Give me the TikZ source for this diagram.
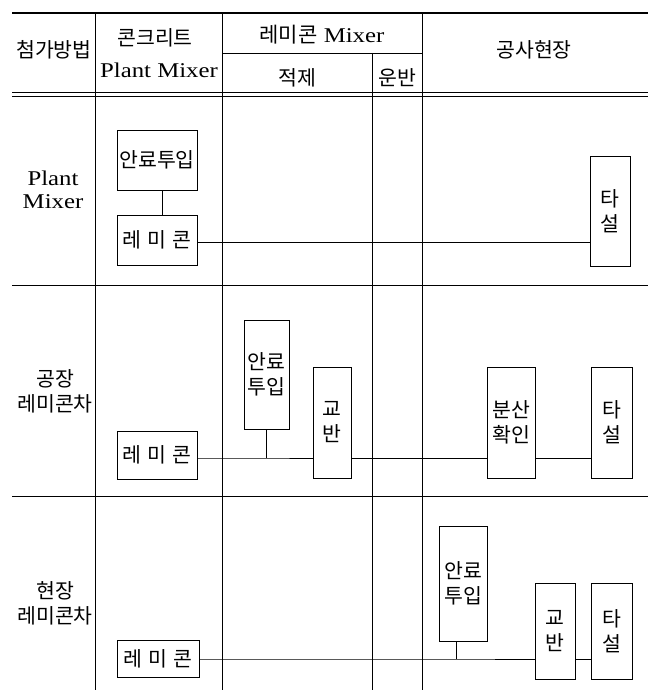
\documentclass[tikz,border=0pt]{standalone}
\usepackage{fontspec}
\newfontfamily\kr{Noto Sans CJK KR}
\newfontfamily\lat[FakeStretch=1.18]{Liberation Serif}
\begin{document}
\begin{tikzpicture}[x=1pt,y=-1pt,
  every node/.style={inner sep=0pt, outer sep=0pt},
  ko/.style={font=\kr\fontsize{20.5}{25}\selectfont, align=center},
  la/.style={font=\lat\fontsize{21}{23}\selectfont, align=center},
  box/.style={draw, line width=0.8pt, ko},
  rule/.style={line width=0.8pt},
  heavyrule/.style={line width=2.2pt},
  link/.style={line width=0.8pt}]
\useasboundingbox (0,0) rectangle (654,690);
% table rules
\draw[heavyrule] (12,13) -- (648,13);
\draw[rule] (12,92) -- (648,92);
\draw[rule] (12,96) -- (648,96);
\draw[rule] (12,285) -- (648,285);
\draw[rule] (12,496) -- (648,496);
\draw[rule] (95,13) -- (95,690);
\draw[rule] (222,13) -- (222,690);
\draw[rule] (372,53) -- (372,690);
\draw[rule] (422,13) -- (422,690);
\draw[rule] (222,53) -- (422,53);
% header
\node[ko] (h1) at (54,50) {첨가방법};
\node[ko] (h2a) at (155,38) {콘크리트};
\node[la] (h2b) at (159,70) {Plant Mixer};
\node[la] (h3) at (322,35) {{\kr 레미콘} Mixer};
\node[ko] (h3a) at (297,78) {적제};
\node[ko] (h3b) at (397,78) {운반};
\node[ko] (h4) at (534,50) {공사현장};
% row labels
\node[la] (l1) at (53,190) {Plant\\Mixer};
\node[ko] (l2) at (55,391) {공장\\레미콘차};
\node[ko] (l3) at (55,603) {현장\\레미콘차};
% row 1
\node[box, minimum width=80, minimum height=60] (a1) at (157,160) {안료투입};
\node[box, minimum width=80, minimum height=50] (r1) at (157,240) {레\hspace{6pt}미\hspace{6pt}콘};
\node[box, minimum width=40, minimum height=110] (t1) at (610,211) {타\\설};
\draw[link] ([xshift=5pt]a1.south) -- ([xshift=5pt]r1.north);
\draw[link] ([yshift=-2pt]r1.east) -- ([yshift=-2pt]r1.east -| t1.west);
% row 2
\node[box, minimum width=80, minimum height=48] (r2) at (157,455) {레\hspace{6pt}미\hspace{6pt}콘};
\node[box, minimum width=45, minimum height=109] (a2) at (266.5,374.5) {안료\\투입};
\node[box, minimum width=38, minimum height=111] (k2) at (332,422.5) {교\\반};
\node[box, minimum width=48, minimum height=111] (b2) at (511,422.5) {분산\\확인};
\node[box, minimum width=41, minimum height=111] (t2) at (611.5,422.5) {타\\설};
\coordinate (j2) at (a2.south |- 0,458);
\draw[link] ([yshift=-3pt]r2.east) -- (r2.east |- j2) -- (j2) -- (j2 -| k2.west);
\draw[link] (a2.south) -- (j2);
\draw[link] (k2.east |- j2) -- (b2.west |- j2);
\draw[link] (b2.east |- j2) -- (t2.west |- j2);
% row 3
\node[box, minimum width=82, minimum height=37] (r3) at (158,659) {레\hspace{6pt}미\hspace{6pt}콘};
\node[box, minimum width=48, minimum height=115] (a3) at (463,583.5) {안료\\투입};
\node[box, minimum width=40, minimum height=96] (k3) at (555,631) {교\\반};
\node[box, minimum width=41, minimum height=96] (t3) at (611.5,631) {타\\설};
\coordinate (j3) at ([xshift=-7pt]a3.south |- r3.east);
\draw[link] (r3.east) -- (j3) -- (j3 -| k3.west);
\draw[link] ([xshift=-7pt]a3.south) -- (j3);
\draw[link] (k3.east |- j3) -- (t3.west |- j3);
\end{tikzpicture}
\end{document}
